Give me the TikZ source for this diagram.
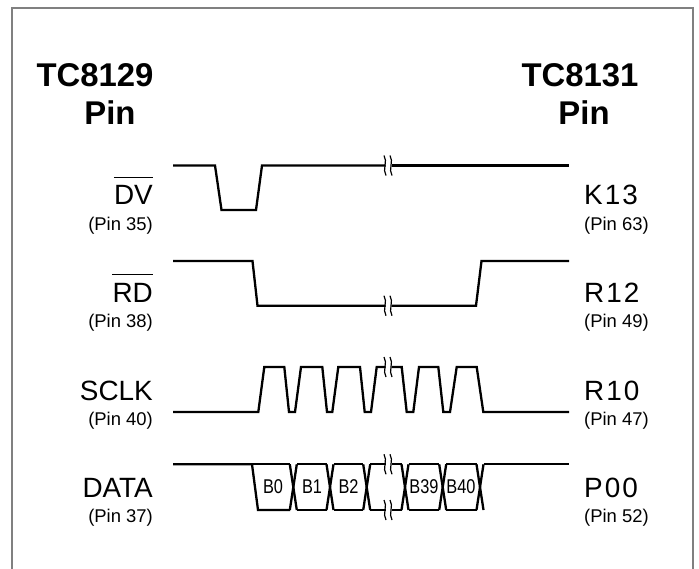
\documentclass[tikz,border=0pt]{standalone}
\usepackage{fontspec}
\setmainfont{Liberation Sans}
\begin{document}
\begin{tikzpicture}[x=1bp,y=-1bp,
  sig/.style={line width=2.3bp,line join=miter},
  brk/.style={line width=1.2bp},
  frame/.style={draw=black!50,line width=1.2bp},
  ttl/.style={inner sep=0,font=\fontsize{33}{33}\selectfont\bfseries},
  lbl/.style={inner sep=0,font=\fontsize{28}{28}\selectfont},
  pin/.style={inner sep=0,font=\fontsize{18.5}{18.5}\selectfont},
  cell/.style={inner sep=0,font=\fontsize{20}{20}\selectfont}]
\useasboundingbox (0,0) rectangle (699,569);
% frame (open at the bottom)
\draw[frame] (12,569) -- (12,8) -- (693,8) -- (693,569);
% titles
\node[ttl,anchor=base] (t1) at (95,87) {TC8129};
\node[ttl,anchor=base] (p1) at (110,125) {Pin};
\node[ttl,anchor=base] (t2) at (580,87) {TC8131};
\node[ttl,anchor=base] (p2) at (584,125) {Pin};
% left labels
\node[lbl,anchor=base east] (dv) at (153,205) {DV};
\draw[line width=1.5bp] ([yshift=8bp]dv.north west) -- ([yshift=8bp]dv.north east);
\node[pin,anchor=base east] (dvp) at (153,230) {(Pin 35)};
\node[lbl,anchor=base east] (rd) at (153,302) {RD};
\draw[line width=1.5bp] ([yshift=8bp]rd.north west) -- ([yshift=8bp]rd.north east);
\node[pin,anchor=base east] (rdp) at (153,327) {(Pin 38)};
\node[lbl,anchor=base east] (sc) at (153,400) {SCLK};
\node[pin,anchor=base east] (scp) at (153,425) {(Pin 40)};
\node[lbl,anchor=base east] (da) at (153,497) {DATA};
\node[pin,anchor=base east] (dap) at (153,522) {(Pin 37)};
% right labels
\node[lbl,anchor=base west] (k13) at (584,205) {K\kern2bp 1\kern2bp 3};
\node[pin,anchor=base west] (k13p) at (584,230) {(Pin 63)};
\node[lbl,anchor=base west] (r12) at (584,302) {R\kern2bp 1\kern2bp 2};
\node[pin,anchor=base west] (r12p) at (584,327) {(Pin 49)};
\node[lbl,anchor=base west] (r10) at (584,400) {R\kern2bp 1\kern2bp 0};
\node[pin,anchor=base west] (r10p) at (584,425) {(Pin 47)};
\node[lbl,anchor=base west] (p00) at (584,497) {P\kern2bp 0\kern2bp 0};
\node[pin,anchor=base west] (p00p) at (584,522) {(Pin 52)};
% break mark: two S-curves
\newcommand{\brkmark}[2]{%
  \draw[brk] (#1-4.5,#2-10) .. controls (#1-0.5,#2-4) and (#1-6.5,#2+4) .. (#1-2.5,#2+10);
  \draw[brk] (#1+1.5,#2-10) .. controls (#1+5.5,#2-4) and (#1-0.5,#2+4) .. (#1+3.5,#2+10);}
% DV
\draw[sig] (173,165.5) -- (215,165.5) -- (221.5,210) -- (256,210) -- (262,165.5) -- (385.5,165.5);
\draw[sig] (391.5,165.5) -- (569,165.5);
\brkmark{388.5}{165.5}
% RD
\draw[sig] (173,261) -- (252.5,261) -- (257.5,305.7) -- (385.5,305.7);
\draw[sig] (391.5,305.7) -- (476,305.7) -- (481.5,261) -- (569,261);
\brkmark{388.5}{305.7}
% SCLK
\draw[sig] (173,412) -- (258.3,412)
  -- (264.3,367) -- (284.3,367) -- (289,412) -- (295,412)
  -- (301,367) -- (322.3,367) -- (327,412) -- (332.3,412)
  -- (338.3,367) -- (360,367) -- (364.7,412) -- (371,412)
  -- (376.7,367) -- (385.5,367);
\draw[sig] (391.5,367) -- (401.7,367) -- (406.7,412) -- (413.3,412)
  -- (419,367) -- (438.3,367) -- (443.3,412) -- (450,412)
  -- (456.7,367) -- (476.7,367) -- (483.3,412) -- (569,412);
\brkmark{388.5}{367}
% DATA
\def\yt{464.3}\def\yb{510}
\draw[sig] (173,\yt) -- (252,\yt) -- (258,\yb) -- (290,\yb);
\draw[sig] (252,\yt) -- (290,\yt);
\foreach \c in {293.3,330,366.7,405,442.7,480}{
  \draw[sig] (\c-3.5,\yt) -- (\c+3.5,\yb);
  \draw[sig] (\c-3.5,\yb) -- (\c+3.5,\yt);}
\foreach \a/\b in {296.8/326.5,333.5/363.2,408.5/439.2,446.2/476.5}{
  \draw[sig] (\a,\yt) -- (\b,\yt);
  \draw[sig] (\a,\yb) -- (\b,\yb);}
\draw[sig] (370.2,\yt) -- (385.5,\yt);
\draw[sig] (391.5,\yt) -- (401.5,\yt);
\draw[sig] (370.2,\yb) -- (385.5,\yb);
\draw[sig] (391.5,\yb) -- (401.5,\yb);
\brkmark{388.5}{\yt}
\brkmark{388.5}{\yb}
\draw[sig] (483.5,\yt) -- (569,\yt);
% cell labels
\node[cell] (b0) at (273,487) {\scalebox{0.82}[1]{B0}};
\node[cell] (b1) at (312,487) {\scalebox{0.82}[1]{B1}};
\node[cell] (b2) at (348.5,487) {\scalebox{0.82}[1]{B2}};
\node[cell] (b39) at (424,487) {\scalebox{0.82}[1]{B39}};
\node[cell] (b40) at (461,487) {\scalebox{0.82}[1]{B40}};
\end{tikzpicture}
\end{document}
